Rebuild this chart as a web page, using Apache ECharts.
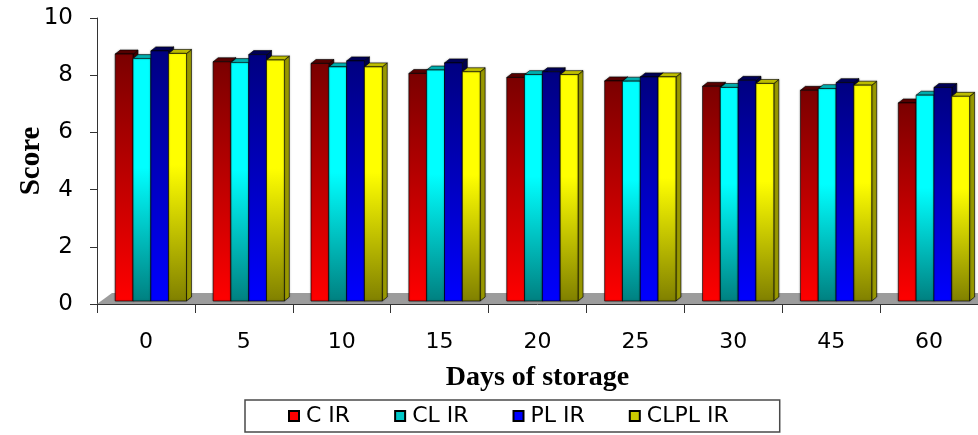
<!DOCTYPE html>
<html>
<head>
<meta charset="utf-8">
<script src="https://cdn.jsdelivr.net/npm/echarts@6/dist/echarts.min.js"></script>
<style>
html,body{margin:0;padding:0;background:#fff;}
#chart{width:978px;height:435px;}
</style>
</head>
<body>
<div id="chart"></div>
<script>
const categories = ['0', '5', '10', '15', '20', '25', '30', '45', '60'];
const seriesNames = ['C IR', 'CL IR', 'PL IR', 'CLPL IR'];
const cIR    = [8.74, 8.47, 8.41, 8.06, 7.92, 7.80, 7.61, 7.47, 7.03];
const clIR   = [8.58, 8.44, 8.29, 8.18, 8.02, 7.79, 7.57, 7.53, 7.30];
const plIR   = [8.85, 8.72, 8.50, 8.43, 8.12, 7.94, 7.82, 7.74, 7.57];
const clplIR = [8.76, 8.53, 8.29, 8.12, 8.02, 7.94, 7.71, 7.65, 7.26];
const yTicks = [0, 2, 4, 6, 8, 10];

const seriesValues = [cIR, clIR, plIR, clplIR];

const styles = [
  {legend: '#ff0000', top: '#7a0000', bottom: '#ff0000', cap: '#5a0000', side: '#4a0000'},
  {legend: '#00c8c8', top: '#00ffff', bottom: '#008080', cap: '#00b4b4', side: '#006a6a', mid: 0.45},
  {legend: '#0000ff', top: '#000080', bottom: '#0000ff', cap: '#00005a', side: '#000050'},
  {legend: '#c8c800', top: '#ffff00', bottom: '#808000', cap: '#c4c400', side: '#9a9a00', mid: 0.45}
];

const GRID_LEFT = 97, GRID_TOP = 18, GRID_RIGHT = 0, GRID_BOTTOM = 131;
const DX = 5, DY = 4;

function makeRender(si) {
  const st = styles[si];
  return function (params, api) {
    const idx = api.value(0);
    const v = api.value(1);
    const topPt = api.coord([idx, v]);
    const basePt = api.coord([idx, 0]);
    const band = api.size([1, 0])[0];
    const w = band * 0.182;
    const shift = band * 0.05;
    const x0 = topPt[0] - 2 * w + si * w + shift;
    const x1 = x0 + w;
    const yt = topPt[1];
    const yb = basePt[1] - 3;
    const stops = st.mid
      ? [{offset: 0, color: st.top}, {offset: st.mid, color: st.top}, {offset: 1, color: st.bottom}]
      : [{offset: 0, color: st.top}, {offset: 1, color: st.bottom}];
    const edge = {stroke: 'rgba(0,0,0,0.75)', lineWidth: 0.8, shadowBlur: 2, shadowColor: 'rgba(0,0,0,0.25)'};
    return {
      type: 'group',
      children: [
        {
          type: 'polygon',
          shape: {points: [[x1, yt], [x1 + DX, yt - DY], [x1 + DX, yb - DY], [x1, yb]]},
          style: Object.assign({fill: st.side}, edge)
        },
        {
          type: 'polygon',
          shape: {points: [[x0, yt], [x1, yt], [x1 + DX, yt - DY], [x0 + DX, yt - DY]]},
          style: Object.assign({fill: st.cap}, edge)
        },
        {
          type: 'rect',
          shape: {x: x0, y: yt, width: w, height: yb - yt},
          style: Object.assign({
            fill: {type: 'linear', x: 0, y: 0, x2: 0, y2: 1, colorStops: stops}
          }, edge)
        }
      ]
    };
  };
}

const chart = echarts.init(document.getElementById('chart'));
const W = 978, H = 435;
const floorFront = H - GRID_BOTTOM;

const option = {
  animation: false,
  backgroundColor: '#ffffff',
  grid: {left: GRID_LEFT, top: GRID_TOP, right: GRID_RIGHT, bottom: GRID_BOTTOM},
  graphic: [{
    type: 'polygon',
    z: 1,
    shape: {points: [[GRID_LEFT, floorFront], [W, floorFront], [W, floorFront - 11], [GRID_LEFT + 15, floorFront - 11]]},
    style: {fill: '#9c9c9c'}
  }],
  legend: {
    left: 245,
    top: 400,
    data: seriesNames,
    icon: 'rect',
    itemWidth: 10,
    itemHeight: 10,
    itemGap: 44,
    padding: [5, 51, 5, 43],
    borderColor: '#4a4a4a',
    borderWidth: 1.5,
    textStyle: {fontFamily: 'DejaVu Sans', fontSize: 22, color: '#000', padding: [0, 0, 0, 2]}
  },
  xAxis: {
    type: 'category',
    data: categories,
    boundaryGap: true,
    name: 'Days of storage',
    nameLocation: 'middle',
    nameGap: 60,
    nameMoveOverlap: false,
    nameTextStyle: {fontFamily: 'Liberation Serif', fontWeight: 'bold', fontSize: 28, color: '#000'},
    axisLine: {show: true, lineStyle: {color: '#333', width: 1}},
    axisTick: {show: true, alignWithLabel: false, length: 9, lineStyle: {color: '#333'}},
    axisLabel: {fontFamily: 'DejaVu Sans', fontSize: 22, color: '#000', margin: 27},
    splitLine: {show: false}
  },
  yAxis: {
    type: 'value',
    min: 0,
    max: 10,
    interval: 2,
    name: 'Score',
    nameLocation: 'middle',
    nameGap: 51,
    nameMoveOverlap: false,
    nameRotate: 90,
    nameTextStyle: {fontFamily: 'Liberation Serif', fontWeight: 'bold', fontSize: 29, color: '#000'},
    axisLine: {show: true, lineStyle: {color: '#333', width: 1}},
    axisTick: {show: true, length: 7, lineStyle: {color: '#333'}},
    axisLabel: {fontFamily: 'DejaVu Sans', fontSize: 23, color: '#000', margin: 24,
      formatter: function (v) { return yTicks.indexOf(v) >= 0 ? String(v) : ''; }},
    splitLine: {show: false}
  },
  series: seriesNames.map(function (name, si) {
    return {
      type: 'custom',
      name: name,
      z: 2 + si,
      renderItem: makeRender(si),
      itemStyle: {color: styles[si].legend, borderColor: '#000', borderWidth: 1},
      encode: {x: 0, y: 1},
      data: seriesValues[si].map(function (v, i) { return [i, v]; })
    };
  })
};
chart.setOption(option);
</script>
</body>
</html>
